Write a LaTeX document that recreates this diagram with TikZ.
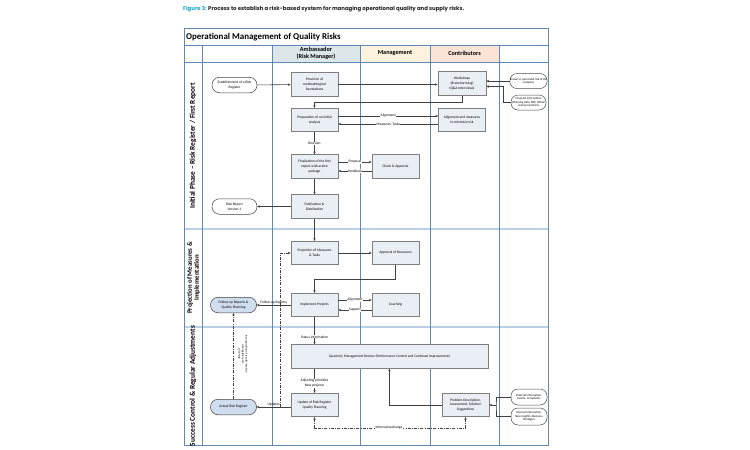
\documentclass[tikz,border=0pt]{standalone}
\usepackage{fontspec}
\setmainfont{Carlito}
\newfontfamily\capfont{Poppins}
\usetikzlibrary{arrows.meta}
\definecolor{boxfill}{HTML}{EAEFF6}
\definecolor{boxdraw}{HTML}{7F7F7F}
\definecolor{termblue}{HTML}{D0DDEE}
\definecolor{laneline}{HTML}{5F8AB8}
\definecolor{phaseline}{HTML}{B8CFE6}
\definecolor{ambfill}{HTML}{DDE7EA}
\definecolor{mgmtfill}{HTML}{FCF2DD}
\definecolor{contfill}{HTML}{FBE3D5}
\definecolor{capblue}{HTML}{1AA6C8}
\definecolor{captext}{HTML}{222222}
\tikzset{
  tinyfont/.style={font=\fontsize{3.6}{4.8}\selectfont},
  proc/.style={draw=boxdraw, fill=boxfill, line width=0.6pt, minimum width=47pt, minimum height=23.5pt,
    align=center, inner sep=0pt, tinyfont},
  term/.style={draw=black!75, fill=white, line width=0.5pt, rounded corners=7.5pt, minimum width=45pt,
    minimum height=15.5pt, align=center, inner sep=0pt, tinyfont},
  termb/.style={term, fill=termblue},
  info/.style={draw=black!70, fill=white, line width=0.5pt, rounded corners=7pt, minimum width=35pt,
    minimum height=15pt, align=center, inner sep=0pt, font=\fontsize{3}{3.6}\selectfont},
  arr/.style={-{Stealth[length=2.8pt,width=2.4pt]}, line width=0.55pt, draw=black!75},
  plain/.style={line width=0.55pt, draw=black!75},
  dd/.style={dash pattern=on 3pt off 1.3pt on 0.8pt off 1.3pt},
  lab/.style={fill=white, inner sep=0.4pt, tinyfont},
  lane/.style={draw=laneline, line width=0.6pt},
  phasesep/.style={draw=phaseline, line width=1.6pt},
  colhead/.style={font=\fontsize{6.2}{7}\selectfont\bfseries, align=center},
  phaselab/.style={font=\fontsize{7.4}{8}\selectfont\bfseries, align=center, rotate=90},
}
\begin{document}
\begin{tikzpicture}[x=1pt,y=-1pt]
\useasboundingbox (0,0) rectangle (750,450);
\fill[white] (0,0) rectangle (750,450);
% caption
\node[anchor=west, inner sep=0pt, font=\capfont\bfseries\fontsize{5.4}{6}\selectfont, text=captext] (cap) at (183,9)
  {\textcolor{capblue}{Figure 3:} Process to establish a risk-based system for managing operational quality and supply risks.};
% header fills
\fill[ambfill] (272,45) rectangle (360,62);
\fill[mgmtfill] (360,45) rectangle (430,62);
\fill[contfill] (430,45) rectangle (499,62);
% phase separators
\draw[phasesep] (184,229) -- (548,229);
\draw[phasesep] (184,327) -- (548,327);
% lanes
\draw[lane] (184,45) -- (548,45);
\draw[lane] (184,62) -- (548,62);
\foreach \x in {202,272,360,430,499} {\draw[lane] (\x,45) -- (\x,445);}
\draw[draw=laneline!80!gray, line width=0.8pt] (184,28) rectangle (548,445);
% titles
\node[anchor=west, inner sep=0pt, font=\fontsize{8.9}{9}\selectfont\bfseries] (title) at (186,37) {Operational Management of Quality Risks};
\node[colhead] (hamb) at (316,53.5) {Ambassador\\(Risk Manager)};
\node[colhead] (hmgmt) at (395,53.5) {Management};
\node[colhead] (hcont) at (464.5,53.5) {Contributors};
\node[phaselab] (ph1) at (193,146) {Initial Phase – Risk Register / First Report};
\node[phaselab, font=\fontsize{6.8}{7}\selectfont\bfseries] (ph2) at (193.5,278) {Projection of Measures \&\\Implementation};
\node[phaselab] (ph3) at (193,386) {Success Control \& Regular Adjustments};
% phase 1 nodes
\node[term] (est) at (234.5,85) {Establishment of a Risk\\Register};
\node[proc] (prov) at (314.5,84.5) {Provision of\\methodological\\foundations};
\node[proc] (prep) at (314.5,120) {Preparation of an initial\\analysis};
\node[proc, minimum width=48pt] (work) at (462,83.5) {Workshops\\(Brainstorming)\\(Q\&A Interviews)};
\node[proc] (align) at (462,120) {Alignment and measures\\to minimize risk};
\node[info] (known) at (528.5,81) {Known or perceived risk of the\\company};
\node[info] (fin) at (528.5,102.5) {Financial information\\(Planning data, ERP, official\\communications)};
\node[proc] (final) at (314.5,166.5) {Finalisation of the first\\report with action\\package};
\node[proc] (check) at (395.5,166.5) {Check \& Approval};
\node[proc] (pub) at (314.5,206.5) {Publication \&\\Distribution};
\node[term] (rr1) at (234.5,206.5) {Risk Report\\Version 1};
% phase 2 nodes
\node[proc] (proj) at (314.5,253) {Projection of Measures\\\& Tasks};
\node[proc] (appr) at (395.5,253) {Approval of Resources};
\node[proc] (impl) at (314.5,305) {Implement Projects};
\node[proc] (coach) at (395.5,305) {Coaching};
\node[termb, minimum width=46pt] (follow) at (233.5,305) {Follow-up Reports \&\\Quality Planning};
% phase 3 nodes
\node[proc, minimum width=197pt] (qmr) at (389.5,356.5) {Quarterly Management Review (Performance Control and Continual Improvement)};
\node[proc] (upd) at (314.5,405) {Update of Risk Register\\Quality Planning};
\node[termb, minimum width=46pt] (act) at (233.5,407) {Actual Risk Register};
\node[proc] (prob) at (465.5,405) {Problem Description,\\Assessment, Solution\\Suggestions};
\node[info, minimum width=36pt, minimum height=16pt] (ext) at (529,397) {External Information,\\Events, Complaints};
\node[info, minimum width=36pt, minimum height=17pt] (int) at (529,416.5) {Internal Information,\\New Insights, Business\\Strategies};
% connectors phase 1
\draw[arr] (est) -- (prov);
\draw[arr] (prov) -- (prov -| work.west);
\draw[arr] (work.south) -- ++(0,6.5) -| (prep.north);
\draw[arr] ([yshift=4pt]prep.east) -- ([yshift=4pt]align.west) node[lab, midway] (l1) {Alignment};
\draw[arr] ([yshift=-4pt]align.west) -- ([yshift=-4pt]prep.east) node[lab, midway] (l2) {Measures, Tasks};
\draw[arr] (known.west) -- (work.east |- known.west);
\draw[arr] (fin.west) -- ++(-7,0) |- ([yshift=-3pt]work.east);
\draw[arr] (prep) -- (final) node[lab, midway] (l3) {Revision};
\draw[arr] ([yshift=4.5pt]final.east) -- ([yshift=4.5pt]check.west) node[lab, midway] (l4) {Proposal};
\draw[arr] ([yshift=-4.5pt]check.west) -- ([yshift=-4.5pt]final.east) node[lab, midway] (l5) {Feedback};
\draw[arr] (final) -- (pub);
\draw[arr] (pub) -- (rr1);
\draw[arr] (pub) -- (proj);
% connectors phase 2
\draw[arr] (proj) -- (appr);
\draw[arr] (appr.south) -- ++(0,14) -| (impl.north);
\draw[arr] ([yshift=5pt]impl.east) -- ([yshift=5pt]coach.west) node[lab, midway] (l6) {Alignment};
\draw[arr] ([yshift=-5pt]coach.west) -- ([yshift=-5pt]impl.east) node[lab, midway] (l7) {Support};
\draw[arr] (impl) -- (follow) node[midway, above=0.3pt, inner sep=0.4pt, tinyfont] (l8) {Follow-up Reports};
% connectors phase 3
\draw[arr] (impl) -- (impl |- qmr.north) node[lab, pos=0.72] (l9) {Status information};
\draw[arr] (qmr.south -| upd) -- (upd) node[lab, pos=0.6, align=center] (l10) {Adjusting priorities\\New projects};
\draw[arr] (upd.west |- act.east) -- (act.east) node[midway, above=0.6pt, inner sep=0.4pt, tinyfont] (l11) {Updates};
\coordinate (j1) at (280,407);
\draw[arr, dd] (j1) |- (proj.west);
\draw[arr, dd] (act.north) -- (follow.south);
\node[rotate=-90, align=center, inner sep=0pt, font=\fontsize{2.9}{3.5}\selectfont] (rot) at (243,354)
  {Incorporation of results into the\\risk register and\\planning};
\draw[arr] (prob.west) -| (qmr.south);
\coordinate (j2) at (496,405);
\draw[plain] (ext.west) -| (j2) |- (int.west);
\draw[arr] (j2) -- (prob.east);
\draw[{Stealth[length=2.8pt,width=2.4pt]}-{Stealth[length=2.8pt,width=2.4pt]}, line width=0.55pt, draw=black!75, dd]
  (upd.south) -- ++(0,11) -| (prob.south);
\node[lab] (l12) at (389,428) {Informal exchange};
\end{tikzpicture}
\end{document}
